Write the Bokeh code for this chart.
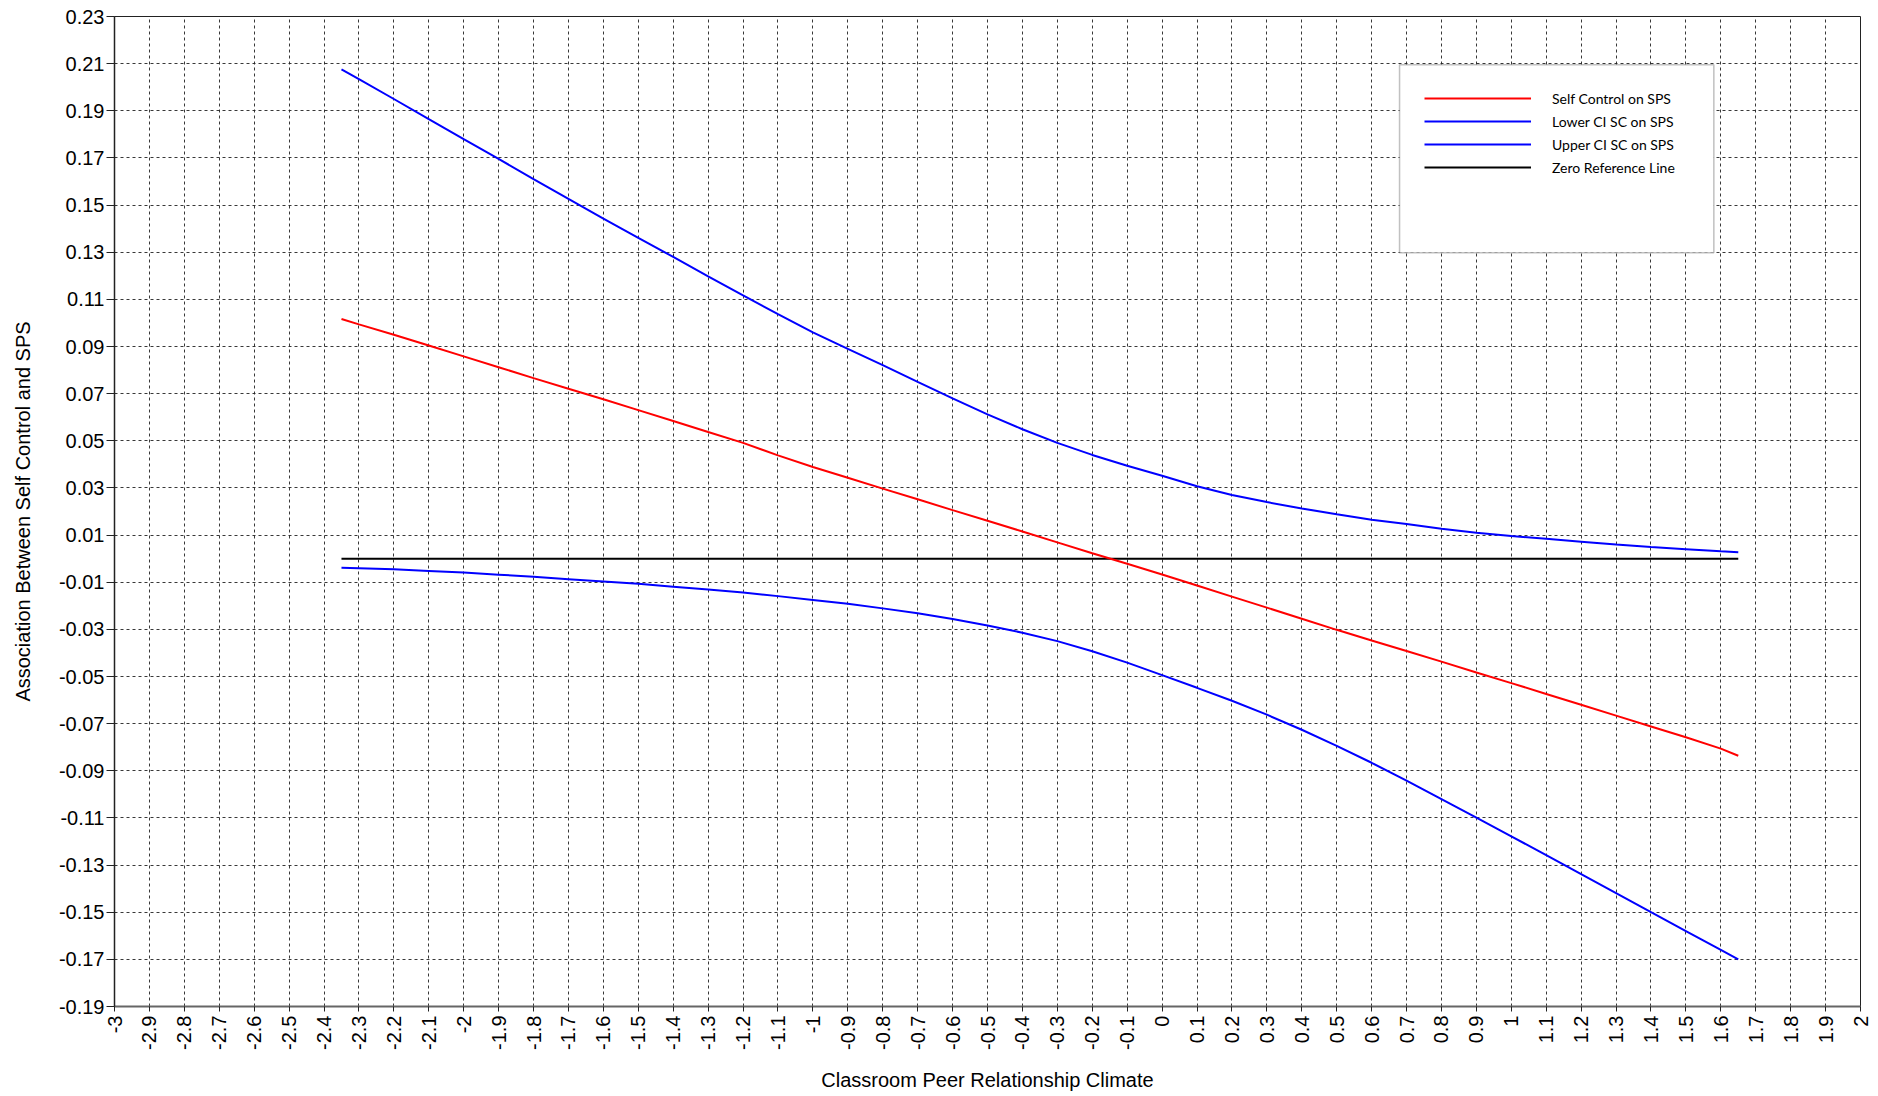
import math
from bokeh.plotting import figure
from bokeh.models import (ColumnDataSource, FixedTicker, Legend, LegendItem,
                          BoxAnnotation, Range1d)
from bokeh.embed import file_html
from bokeh.resources import INLINE

# ---------------- data ----------------
climate = [-2.35, -2.3, -2.2, -2.1, -2.0, -1.9, -1.8, -1.7, -1.6, -1.5, -1.4,
           -1.3, -1.2, -1.1, -1.0, -0.9, -0.8, -0.7, -0.6, -0.5, -0.4, -0.3,
           -0.2, -0.1, 0.0, 0.1, 0.2, 0.3, 0.4, 0.5, 0.6, 0.7, 0.8, 0.9, 1.0,
           1.1, 1.2, 1.3, 1.4, 1.5, 1.6, 1.65]

self_control = [0.1017, 0.0994, 0.0950, 0.0904, 0.0858, 0.0812, 0.0766, 0.0721,
                0.0676, 0.0630, 0.0584, 0.0537, 0.0491, 0.0438, 0.0389, 0.0343,
                0.0297, 0.0252, 0.0206, 0.0161, 0.0115, 0.0069, 0.0023, -0.0022,
                -0.0067, -0.0114, -0.0161, -0.0208, -0.0255, -0.0302, -0.0347,
                -0.0392, -0.0437, -0.0483, -0.0528, -0.0574, -0.0620, -0.0666,
                -0.0712, -0.0758, -0.0806, -0.0836]

upper_ci = [0.2076, 0.2034, 0.1950, 0.1865, 0.1780, 0.1696, 0.1610, 0.1526,
            0.1443, 0.1361, 0.1280, 0.1198, 0.1117, 0.1037, 0.0960, 0.0890,
            0.0821, 0.0750, 0.0680, 0.0612, 0.0549, 0.0491, 0.0440, 0.0394,
            0.0352, 0.0307, 0.0270, 0.0240, 0.0213, 0.0188, 0.0165, 0.0147,
            0.0127, 0.0110, 0.0096, 0.0084, 0.0072, 0.0060, 0.0049, 0.0040,
            0.0031, 0.0027]

lower_ci = [-0.0039, -0.0041, -0.0045, -0.0052, -0.0059, -0.0068, -0.0077,
            -0.0087, -0.0097, -0.0107, -0.0119, -0.0131, -0.0144, -0.0159,
            -0.0175, -0.0191, -0.0211, -0.0232, -0.0256, -0.0284, -0.0314,
            -0.0350, -0.0393, -0.0441, -0.0494, -0.0548, -0.0603, -0.0662,
            -0.0726, -0.0794, -0.0866, -0.0942, -0.1020, -0.1099, -0.1178,
            -0.1258, -0.1338, -0.1419, -0.1500, -0.1580, -0.1660, -0.1700]

zero_ref = [0.0] * len(climate)

x_tick_labels = ["-3", "-2.9", "-2.8", "-2.7", "-2.6", "-2.5", "-2.4", "-2.3",
                 "-2.2", "-2.1", "-2", "-1.9", "-1.8", "-1.7", "-1.6", "-1.5",
                 "-1.4", "-1.3", "-1.2", "-1.1", "-1", "-0.9", "-0.8", "-0.7",
                 "-0.6", "-0.5", "-0.4", "-0.3", "-0.2", "-0.1", "0", "0.1",
                 "0.2", "0.3", "0.4", "0.5", "0.6", "0.7", "0.8", "0.9", "1",
                 "1.1", "1.2", "1.3", "1.4", "1.5", "1.6", "1.7", "1.8", "1.9",
                 "2"]
y_tick_labels = ["-0.19", "-0.17", "-0.15", "-0.13", "-0.11", "-0.09", "-0.07",
                 "-0.05", "-0.03", "-0.01", "0.01", "0.03", "0.05", "0.07",
                 "0.09", "0.11", "0.13", "0.15", "0.17", "0.19", "0.21", "0.23"]

series_names = ["Self Control on SPS", "Lower CI SC on SPS",
                "Upper CI SC on SPS", "Zero Reference Line"]

# ---------------- figure ----------------
x_ticks = [float(s) for s in x_tick_labels]
y_ticks = [float(s) for s in y_tick_labels]

p = figure(x_range=Range1d(x_ticks[0], x_ticks[-1]),
           y_range=Range1d(y_ticks[0], y_ticks[-1]),
           frame_width=1746, frame_height=990,
           min_border_left=114, min_border_right=10,
           min_border_top=16, min_border_bottom=82,
           output_backend="svg", toolbar_location=None,
           background_fill_color="white", border_fill_color="white")

p.outline_line_color = "#222222"
p.outline_line_width = 1

FONT = "Liberation Sans"

# axes
p.xaxis.ticker = FixedTicker(ticks=x_ticks)
p.yaxis.ticker = FixedTicker(ticks=y_ticks)
p.xaxis.major_label_overrides = {t: s for t, s in zip(x_ticks, x_tick_labels)}
p.yaxis.major_label_overrides = {t: s for t, s in zip(y_ticks, y_tick_labels)}
p.xaxis.major_label_orientation = math.pi / 2

for ax in (p.xaxis, p.yaxis):
    ax.major_label_text_font = FONT
    ax.major_label_text_font_size = "20px"
    ax.major_label_text_color = "black"
    ax.axis_label_text_font = FONT
    ax.axis_label_text_font_size = "20px"
    ax.axis_label_text_font_style = "normal"
    ax.axis_label_text_color = "black"
    ax.minor_tick_line_color = None
    ax.major_tick_in = 0
    ax.major_tick_line_color = "#222222"

p.xaxis.axis_label = "Classroom Peer Relationship Climate"
p.yaxis.axis_label = "Association Between Self Control and SPS"
p.xaxis.axis_line_color = "#666666"
p.xaxis.axis_line_width = 2
p.yaxis.axis_line_color = "#222222"
p.yaxis.axis_line_width = 1.5
p.xaxis.major_tick_out = 5
p.yaxis.major_tick_out = 8
p.xaxis.major_label_standoff = 4
p.yaxis.major_label_standoff = 2
p.xaxis.axis_label_standoff = 16
p.yaxis.axis_label_standoff = 22

# grid
for g in (p.xgrid, p.ygrid):
    g.grid_line_color = "#222222"
    g.grid_line_dash = "3 3"
    g.grid_line_width = 1
    g.grid_line_alpha = 0.9
p.xgrid.ticker = FixedTicker(ticks=x_ticks)
p.ygrid.ticker = FixedTicker(ticks=y_ticks)

# lines
src = ColumnDataSource(dict(x=climate, sc=self_control, lo=lower_ci,
                            up=upper_ci, zero=zero_ref))
r_zero = p.line("x", "zero", source=src, line_color="black", line_width=2)
r_sc = p.line("x", "sc", source=src, line_color="#ff0000", line_width=2)
r_lo = p.line("x", "lo", source=src, line_color="#0000ff", line_width=2)
r_up = p.line("x", "up", source=src, line_color="#0000ff", line_width=2)

# legend frame (white box with border)
box = BoxAnnotation(left=0.68, right=1.58, top=0.2095, bottom=0.1298,
                    fill_color="white", fill_alpha=1.0,
                    line_color="#333333", line_width=1.5)
p.add_layout(box)

legend = Legend(items=[LegendItem(label=series_names[0], renderers=[r_sc]),
                       LegendItem(label=series_names[1], renderers=[r_lo]),
                       LegendItem(label=series_names[2], renderers=[r_up]),
                       LegendItem(label=series_names[3], renderers=[r_zero])],
                location=(1300, 819),
                glyph_width=107, glyph_height=20, label_height=20,
                label_standoff=21, spacing=3, padding=10,
                label_text_font="Lato", label_text_font_size="14px",
                label_text_color="black",
                background_fill_alpha=0.0, border_line_alpha=0.0)
p.add_layout(legend)

open("out.html", "w").write(file_html(p, INLINE))
